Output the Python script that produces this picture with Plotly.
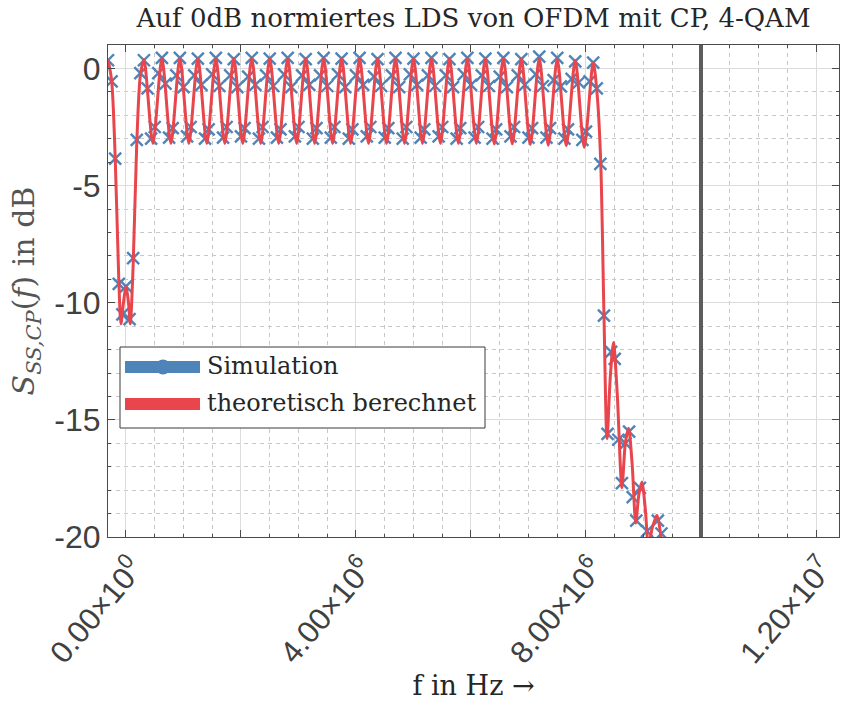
import plotly.graph_objects as go

# ---------------------------------------------------------------------------
# Data: normalised PSD of OFDM with cyclic prefix, 4-QAM
# ---------------------------------------------------------------------------
SUBCARRIER_SPACING_HZ = 312.5e3      # 20 MHz / 64
SIM_BIN_HZ = 62.5e3                  # resolution of the simulated periodogram
SIM_FIRST_BIN = -5                   # first simulated bin index

# Simulated PSD in dB, one value per bin (bins -5 ... 150)
sim_db = [
    # around DC (bins -5 ... 4)
    0.35, -0.55, -3.85, -9.2, -10.5, -9.3, -10.7, -8.1, -3.05, -0.2,
    # subcarriers 1 ... 25, five bins each
    0.35, -0.85, -3.00, -2.50, -0.20,
    0.45, -0.65, -2.95, -2.55, -0.30,
    0.45, -0.80, -2.90, -2.50, -0.30,
    0.42, -0.70, -3.00, -2.60, -0.25,
    0.45, -0.75, -2.95, -2.50, -0.30,
    0.40, -0.80, -2.90, -2.55, -0.35,
    0.45, -0.70, -3.00, -2.50, -0.30,
    0.42, -0.75, -2.95, -2.60, -0.25,
    0.45, -0.80, -2.90, -2.50, -0.30,
    0.40, -0.70, -3.00, -2.55, -0.30,
    0.45, -0.75, -2.95, -2.50, -0.25,
    0.42, -0.80, -3.00, -2.60, -0.30,
    0.45, -0.70, -2.90, -2.50, -0.35,
    0.40, -0.75, -2.95, -2.55, -0.30,
    0.45, -0.80, -3.00, -2.50, -0.25,
    0.42, -0.70, -2.95, -2.60, -0.30,
    0.45, -0.75, -2.90, -2.50, -0.30,
    0.40, -0.80, -3.00, -2.55, -0.25,
    0.45, -0.70, -2.95, -2.50, -0.30,
    0.42, -0.75, -3.00, -2.60, -0.35,
    0.45, -0.80, -2.90, -2.50, -0.30,
    0.40, -0.70, -2.95, -2.55, -0.25,
    0.50, -0.75, -2.95, -2.55, -0.50,
    0.45, -0.77, -3.00, -2.60, -0.45,
    0.30, -0.60, -3.05, -2.70, -0.55,
    # subcarrier 26 and the out-of-band roll-off (bins 130 ... 150)
    0.25, -0.85, -4.07, -10.55, -15.6,
    -12.1, -12.4, -15.85, -17.7, -16.0, -15.5, -18.3, -19.3, -17.9, -20.4,
    -19.75, -20.8, -20.3, -19.3, -19.85, -21.2,
]

# Theoretical PSD: position in units of the subcarrier spacing and level in dB
theo_pos = [
    -1.0, -0.8, -0.6, -0.4, -0.28, -0.14, 0.0, 0.14, 0.24, 0.4, 0.6, 0.8,
    1.0, 1.5, 2.0, 2.5, 3.0, 3.5, 4.0, 4.5, 5.0, 5.5, 6.0, 6.5, 7.0, 7.5,
    8.0, 8.5, 9.0, 9.5, 10.0, 10.5, 11.0, 11.5, 12.0, 12.5, 13.0, 13.5,
    14.0, 14.5, 15.0, 15.5, 16.0, 16.5, 17.0, 17.5, 18.0, 18.5, 19.0, 19.5,
    20.0, 20.5, 21.0, 21.5, 22.0, 22.5, 23.0, 23.5, 24.0, 24.5, 25.0, 25.5,
    26.0,
    26.23, 26.42, 26.6, 26.77, 26.95, 27.13, 27.34, 27.6, 27.79, 27.97,
    28.17, 28.37, 28.54, 28.71, 28.9, 29.08, 29.29, 29.55, 29.74, 29.9,
    30.12, 30.5, 31.0, 32.0,
]
theo_db = [
    0.37, -0.5, -3.8, -9.0, -10.9, -10.0, -9.3, -10.0, -10.9, -8.4, -3.2, -0.3,
    0.38, -3.2, 0.42, -3.2, 0.43, -3.2, 0.43, -3.2, 0.43, -3.2, 0.43, -3.2,
    0.43, -3.2, 0.43, -3.2, 0.43, -3.2, 0.43, -3.2, 0.43, -3.2, 0.43, -3.2,
    0.43, -3.2, 0.43, -3.2, 0.43, -3.2, 0.43, -3.2, 0.43, -3.2, 0.43, -3.2,
    0.43, -3.2, 0.43, -3.22, 0.43, -3.22, 0.42, -3.25, 0.42, -3.28, 0.4,
    -3.3, 0.35, -3.36, 0.25,
    -1.2, -4.0, -10.5, -15.8, -13.2, -11.7, -13.9, -17.9, -16.0, -15.36,
    -16.9, -19.4, -18.2, -17.65, -18.8, -20.4, -19.6, -19.07, -19.8, -20.8,
    -22.0, -23.5, -24.0, -26.0,
]

# Axis ticks: ticks every 2 MHz, a label on every second one
X_TICK_STEP_HZ = 2e6
x_tick_default = ["0", "4M", "8M", "12M"]
x_tick_text = ["0.00×10<sup>0</sup>", "4.00×10<sup>6</sup>",
               "8.00×10<sup>6</sup>", "1.20×10<sup>7</sup>"]
y_tick_db = [-20, -15, -10, -5, 0]
y_tick_text = ["-20", "-15", "-10", "-5", "0"]

NYQUIST_HZ = 10e6

# ---------------------------------------------------------------------------
sim_f = [(SIM_FIRST_BIN + i) * SIM_BIN_HZ for i in range(len(sim_db))]
theo_f = [p * SUBCARRIER_SPACING_HZ for p in theo_pos]

BLUE = "#4f84b8"
RED = "#e8454c"
SERIF = "DejaVu Serif"
SANS = "Liberation Sans"

fig = go.Figure()
fig.add_trace(go.Scatter(
    x=sim_f, y=sim_db, mode="markers", name="Simulation",
    marker=dict(symbol="x-thin", size=12, line=dict(width=2.4, color=BLUE)),
    showlegend=False,
))
fig.add_trace(go.Scatter(
    x=theo_f, y=theo_db, mode="lines", name="theoretisch berechnet",
    line=dict(color=RED, width=3, shape="spline", smoothing=0.8),
    showlegend=False,
))

# plot area in pixels (used for the hand-made legend box)
L, R, T, B = 108, 839, 45, 537
W, H = 842, 701


def px(xp):
    return (xp - L) / (R - L)


def py(yp):
    return (B - yp) / (B - T)


shapes = [
    # Nyquist frequency marker
    dict(type="line", xref="x", yref="paper", x0=NYQUIST_HZ, x1=NYQUIST_HZ,
         y0=0, y1=1, line=dict(color="#5c5c5c", width=4), layer="above"),
    # legend frame
    dict(type="rect", xref="paper", yref="paper", x0=px(120), x1=px(485),
         y0=py(428), y1=py(347), fillcolor="white",
         line=dict(color="#3a3a3a", width=1), layer="above"),
    # legend symbols
    dict(type="line", xref="paper", yref="paper", x0=px(125), x1=px(200),
         y0=py(367), y1=py(367), line=dict(color=BLUE, width=12), layer="above"),
    dict(type="circle", xref="paper", yref="paper", x0=px(155.5), x1=px(170.5),
         y0=py(374.5), y1=py(359.5), fillcolor=BLUE, line=dict(width=0),
         layer="above"),
    dict(type="line", xref="paper", yref="paper", x0=px(125), x1=px(200),
         y0=py(404), y1=py(404), line=dict(color=RED, width=12), layer="above"),
]

annotations = [
    dict(text="Simulation", xref="paper", yref="paper", x=px(205), y=py(366),
         xanchor="left", yanchor="middle", showarrow=False,
         font=dict(family=SERIF, size=24, color="#262626")),
    dict(text="theoretisch berechnet", xref="paper", yref="paper", x=px(205),
         y=py(403), xanchor="left", yanchor="middle", showarrow=False,
         font=dict(family=SERIF, size=24, color="#262626")),
]

axis_common = dict(
    showline=True, linecolor="#4a4a4a", linewidth=1, mirror="ticks",
    ticks="inside", ticklen=7, tickcolor="#4a4a4a", tickwidth=1,
    showgrid=True, gridcolor="#dcdcdc", gridwidth=1, zeroline=False,
)

fig.update_layout(
    width=W, height=H,
    margin=dict(l=L, r=W - R, t=T, b=H - B),
    paper_bgcolor="white", plot_bgcolor="white",
    title=dict(text="Auf 0dB normiertes LDS von OFDM mit CP, 4-QAM",
               x=0.5, xref="paper", xanchor="center",
               y=1 - 18 / H, yref="container", yanchor="middle",
               font=dict(family=SERIF, size=26, color="#262626")),
    xaxis=dict(
        axis_common,
        range=[-0.3125e6, 12.4e6],
        tickmode="linear", tick0=0, dtick=X_TICK_STEP_HZ, ticklabelstep=2,
        labelalias=dict(zip(x_tick_default, x_tick_text)),
        tickangle=-50, ticklabelshift=7,
        tickfont=dict(family=SANS, size=31, color="#404040"),
        minor=dict(dtick=0.5e6, tick0=0, showgrid=True, gridcolor="#c8c8c8",
                   griddash="4px,4px", ticks="inside", ticklen=3,
                   tickcolor="#4a4a4a"),
        title=dict(text="f in Hz →", standoff=8,
                   font=dict(family=SERIF, size=27, color="#262626")),
    ),
    yaxis=dict(
        axis_common,
        range=[-20, 1],
        tickmode="array", tickvals=y_tick_db, ticktext=y_tick_text,
        tickfont=dict(family=SANS, size=32, color="#404040"),
        minor=dict(dtick=1, tick0=0, showgrid=True, gridcolor="#c8c8c8",
                   griddash="4px,4px", ticks="inside", ticklen=3,
                   tickcolor="#4a4a4a"),
        title=dict(text="<i>S</i><sub><i>SS,CP</i></sub>(<i>f</i>) in dB",
                   standoff=10,
                   font=dict(family=SERIF, size=30, color="#555555")),
    ),
    shapes=shapes,
    annotations=annotations,
)

fig.write_html("out.html")
